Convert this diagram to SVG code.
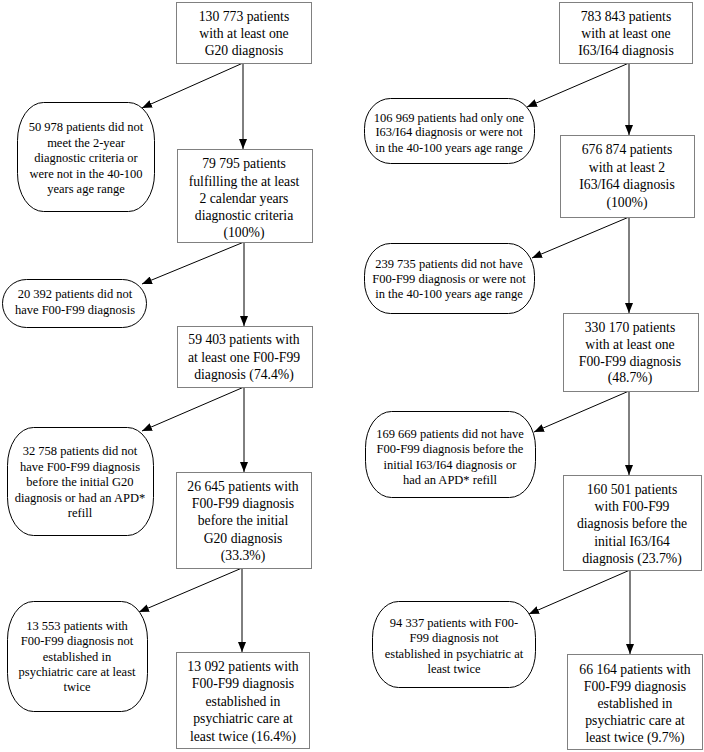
<svg xmlns="http://www.w3.org/2000/svg" width="704" height="752" viewBox="0 0 704 752" font-family="Liberation Serif, Times New Roman, DejaVu Serif, serif">
<defs>
<marker id="ah" viewBox="0 0 10 8" refX="10" refY="4" markerWidth="10" markerHeight="8" markerUnits="userSpaceOnUse" orient="auto">
<path d="M0,0 L10,4 L0,8 Z" fill="#000"/>
</marker>
</defs>
<style>
.box{fill:#fff;stroke:#808080;stroke-width:1}
.exc{fill:#fff;stroke:#000;stroke-width:1}
text{font-family:'Liberation Serif','Times New Roman','DejaVu Serif',serif;fill:#000;text-anchor:middle}
.bt{font-size:13.7px}
.et{font-size:12.5px}
.c{fill:none;stroke:#000;stroke-width:1;marker-end:url(#ah)}
</style>
<rect width="704" height="752" fill="#fff"/>
<g id="connectors">
<line class="c" x1="243" y1="63" x2="243" y2="149"/>
<line class="c" x1="243" y1="63" x2="142" y2="108"/>
<line class="c" x1="244" y1="242" x2="244" y2="326"/>
<line class="c" x1="244" y1="242" x2="142" y2="284"/>
<line class="c" x1="244" y1="387" x2="244" y2="472"/>
<line class="c" x1="244" y1="387" x2="142" y2="431"/>
<line class="c" x1="242" y1="568" x2="242" y2="652"/>
<line class="c" x1="242" y1="568" x2="139" y2="612"/>
<line class="c" x1="629" y1="63" x2="629" y2="135"/>
<line class="c" x1="629" y1="63" x2="527" y2="107"/>
<line class="c" x1="629" y1="217" x2="629" y2="313"/>
<line class="c" x1="629" y1="217" x2="532" y2="258"/>
<line class="c" x1="629" y1="391" x2="629" y2="475"/>
<line class="c" x1="629" y1="391" x2="534" y2="432"/>
<line class="c" x1="630" y1="570" x2="630" y2="654"/>
<line class="c" x1="630" y1="570" x2="529" y2="614"/>
</g>
<g id="L1"><rect class="box" x="176.5" y="2.5" width="135" height="61"/>
<text class="bt" x="244" y="21">130 773 patients</text><text class="bt" x="244" y="38">with at least one</text><text class="bt" x="244" y="55">G20 diagnosis</text></g>
<g id="L2"><rect class="box" x="177.5" y="149.5" width="135" height="93"/>
<text class="bt" x="244" y="168">79 795 patients</text><text class="bt" x="244" y="186">fulfilling the at least</text><text class="bt" x="244" y="203">2 calendar years</text><text class="bt" x="244" y="220">diagnostic criteria</text><text class="bt" x="244" y="237">(100%)</text></g>
<g id="L3"><rect class="box" x="177.5" y="326.5" width="135" height="61"/>
<text class="bt" x="244" y="344">59 403 patients with</text><text class="bt" x="244" y="362">at least one F00-F99</text><text class="bt" x="244" y="379">diagnosis (74.4%)</text></g>
<g id="L4"><rect class="box" x="176.5" y="472.5" width="135" height="96"/>
<text class="bt" x="243" y="491">26 645 patients with</text><text class="bt" x="243" y="508">F00-F99 diagnosis</text><text class="bt" x="243" y="525">before the initial</text><text class="bt" x="243" y="543">G20 diagnosis</text><text class="bt" x="243" y="560">(33.3%)</text></g>
<g id="L5"><rect class="box" x="176.5" y="652.5" width="133" height="96"/>
<text class="bt" x="243" y="671">13 092 patients with</text><text class="bt" x="243" y="688">F00-F99 diagnosis</text><text class="bt" x="243" y="706">established in</text><text class="bt" x="243" y="723">psychiatric care at</text><text class="bt" x="243" y="741">least twice (16.4%)</text></g>
<g id="LE1"><rect class="exc" x="17.5" y="102.5" width="137" height="109" rx="26" ry="38"/>
<text class="et" x="86" y="131">50 978 patients did not</text><text class="et" x="86" y="146.5">meet the 2-year</text><text class="et" x="86" y="162">diagnostic criteria or</text><text class="et" x="86" y="177.5">were not in the 40-100</text><text class="et" x="86" y="193">years age range</text></g>
<g id="LE2"><rect class="exc" x="2.5" y="279.5" width="144" height="48" rx="24" ry="24"/>
<text class="et" x="75" y="298">20 392 patients did not</text><text class="et" x="75" y="314">have F00-F99 diagnosis</text></g>
<g id="LE3"><rect class="exc" x="7.5" y="427.5" width="146" height="108" rx="26" ry="38"/>
<text class="et" x="80" y="455">32 758 patients did not</text><text class="et" x="80" y="471">have F00-F99 diagnosis</text><text class="et" x="80" y="486">before the initial G20</text><text class="et" x="80" y="501.5">diagnosis or had an APD*</text><text class="et" x="80" y="517">refill</text></g>
<g id="LE4"><rect class="exc" x="7.5" y="601.5" width="140" height="110" rx="26" ry="38"/>
<text class="et" x="77" y="630">13 553 patients with</text><text class="et" x="77" y="645">F00-F99 diagnosis not</text><text class="et" x="77" y="660.5">established in</text><text class="et" x="77" y="676">psychiatric care at least</text><text class="et" x="77" y="691">twice</text></g>
<g id="R1"><rect class="box" x="559.5" y="2.5" width="133" height="61"/>
<text class="bt" x="626" y="21">783 843 patients</text><text class="bt" x="626" y="38">with at least one</text><text class="bt" x="626" y="55">I63/I64 diagnosis</text></g>
<g id="R2"><rect class="box" x="560.5" y="135.5" width="134" height="82"/>
<text class="bt" x="627" y="154">676 874 patients</text><text class="bt" x="627" y="172">with at least 2</text><text class="bt" x="627" y="189">I63/I64 diagnosis</text><text class="bt" x="627" y="207">(100%)</text></g>
<g id="R3"><rect class="box" x="563.5" y="313.5" width="135" height="78"/>
<text class="bt" x="630" y="332">330 170 patients</text><text class="bt" x="630" y="349">with at least one</text><text class="bt" x="630" y="366">F00-F99 diagnosis</text><text class="bt" x="630" y="382">(48.7%)</text></g>
<g id="R4"><rect class="box" x="563.5" y="475.5" width="138" height="95"/>
<text class="bt" x="632" y="494">160 501 patients</text><text class="bt" x="632" y="511">with F00-F99</text><text class="bt" x="632" y="528">diagnosis before the</text><text class="bt" x="632" y="546">initial I63/I64</text><text class="bt" x="632" y="563">diagnosis (23.7%)</text></g>
<g id="R5"><rect class="box" x="567.5" y="654.5" width="135" height="95"/>
<text class="bt" x="635" y="674">66 164 patients with</text><text class="bt" x="635" y="691">F00-F99 diagnosis</text><text class="bt" x="635" y="708">established in</text><text class="bt" x="635" y="725">psychiatric care at</text><text class="bt" x="635" y="742">least twice (9.7%)</text></g>
<g id="RE1"><rect class="exc" x="364.5" y="98.5" width="170" height="65" rx="26" ry="30"/>
<text class="et" x="449" y="121.5">106 969 patients had only one</text><text class="et" x="449" y="136">I63/I64 diagnosis or were not</text><text class="et" x="449" y="151.5">in the 40-100 years age range</text></g>
<g id="RE2"><rect class="exc" x="364.5" y="243.5" width="170" height="70" rx="26" ry="32"/>
<text class="et" x="449" y="267.5">239 735 patients did not have</text><text class="et" x="449" y="282.5">F00-F99 diagnosis or were not</text><text class="et" x="449" y="297.5">in the 40-100 years age range</text></g>
<g id="RE3"><rect class="exc" x="365.5" y="411.5" width="170" height="86" rx="26" ry="36"/>
<text class="et" x="450" y="437.5">169 669 patients did not have</text><text class="et" x="450" y="453">F00-F99 diagnosis before the</text><text class="et" x="450" y="468.5">initial I63/I64 diagnosis or</text><text class="et" x="450" y="483.5">had an APD* refill</text></g>
<g id="RE4"><rect class="exc" x="372.5" y="601.5" width="163" height="86" rx="26" ry="36"/>
<text class="et" x="454" y="626.5">94 337 patients with F00-</text><text class="et" x="454" y="642">F99 diagnosis not</text><text class="et" x="454" y="657.5">established in psychiatric at</text><text class="et" x="454" y="673">least twice</text></g>
</svg>
